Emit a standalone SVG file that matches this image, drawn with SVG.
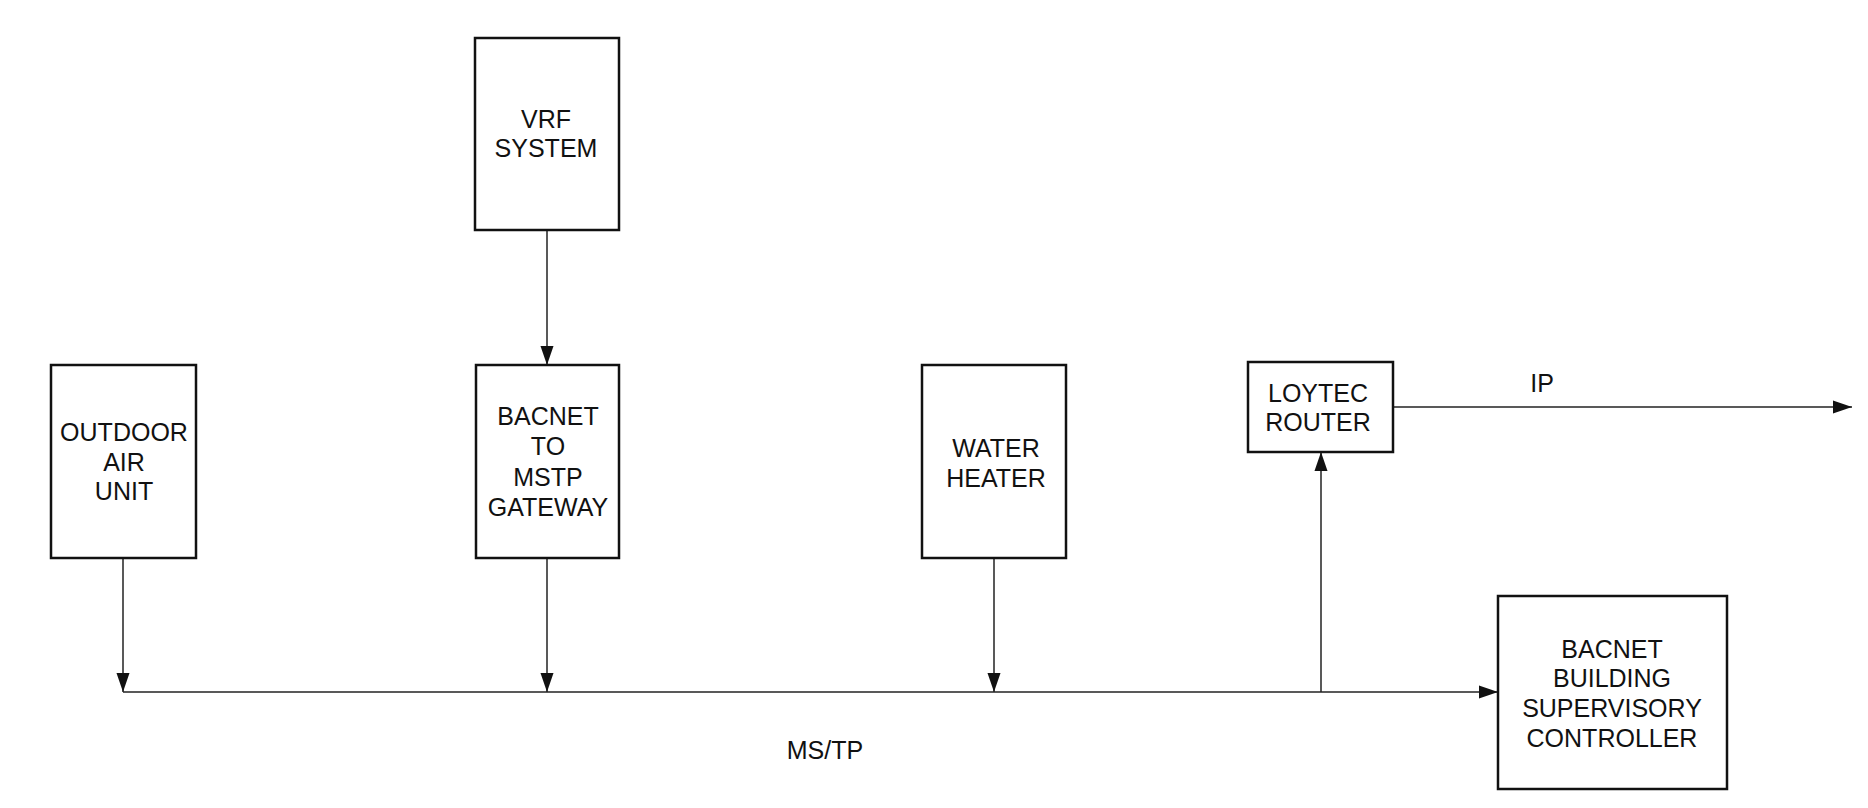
<svg xmlns="http://www.w3.org/2000/svg" width="1868" height="808" viewBox="0 0 1868 808">
<style>
.box{fill:#fff;stroke:#111;stroke-width:2.5}
.ln{fill:none;stroke:#222;stroke-width:1.5}
.t{font-family:"Liberation Sans",Arial,sans-serif;font-size:25px;fill:#111;text-anchor:middle}
</style>
<defs>
<marker id="ah" markerUnits="userSpaceOnUse" markerWidth="20" markerHeight="14" refX="19" refY="7" orient="auto">
<path d="M0,0.5 L19,7 L0,13.5 Z" fill="#111"/>
</marker>
</defs>
<rect width="1868" height="808" fill="#fff"/>
<g id="connectors">
<line class="ln" x1="547" y1="230" x2="547" y2="365" marker-end="url(#ah)"/>
<line class="ln" x1="123" y1="558" x2="123" y2="692" marker-end="url(#ah)"/>
<line class="ln" x1="547" y1="558" x2="547" y2="692" marker-end="url(#ah)"/>
<line class="ln" x1="994" y1="558" x2="994" y2="692" marker-end="url(#ah)"/>
<line class="ln" x1="123" y1="692" x2="1498" y2="692" marker-end="url(#ah)"/>
<line class="ln" x1="1321" y1="692" x2="1321" y2="452" marker-end="url(#ah)"/>
<line class="ln" x1="1393" y1="407" x2="1852" y2="407" marker-end="url(#ah)"/>
<text class="t" x="1542" y="392">IP</text>
<text class="t" x="825" y="759">MS/TP</text>
</g>
<g id="vrf">
<rect class="box" x="475" y="38" width="144" height="192"/>
<text class="t" x="546" y="128">VRF</text>
<text class="t" x="546" y="157">SYSTEM</text>
</g>
<g id="outdoor">
<rect class="box" x="51" y="365" width="145" height="193"/>
<text class="t" x="124" y="441">OUTDOOR</text>
<text class="t" x="124" y="471">AIR</text>
<text class="t" x="124" y="500">UNIT</text>
</g>
<g id="gateway">
<rect class="box" x="476" y="365" width="143" height="193"/>
<text class="t" x="548" y="425">BACNET</text>
<text class="t" x="548" y="455">TO</text>
<text class="t" x="548" y="486">MSTP</text>
<text class="t" x="548" y="516">GATEWAY</text>
</g>
<g id="water">
<rect class="box" x="922" y="365" width="144" height="193"/>
<text class="t" x="996" y="457">WATER</text>
<text class="t" x="996" y="487">HEATER</text>
</g>
<g id="loytec">
<rect class="box" x="1248" y="362" width="145" height="90"/>
<text class="t" x="1318" y="402">LOYTEC</text>
<text class="t" x="1318" y="431">ROUTER</text>
</g>
<g id="controller">
<rect class="box" x="1498" y="596" width="229" height="193"/>
<text class="t" x="1612" y="658">BACNET</text>
<text class="t" x="1612" y="687">BUILDING</text>
<text class="t" x="1612" y="717">SUPERVISORY</text>
<text class="t" x="1612" y="747">CONTROLLER</text>
</g>
</svg>
